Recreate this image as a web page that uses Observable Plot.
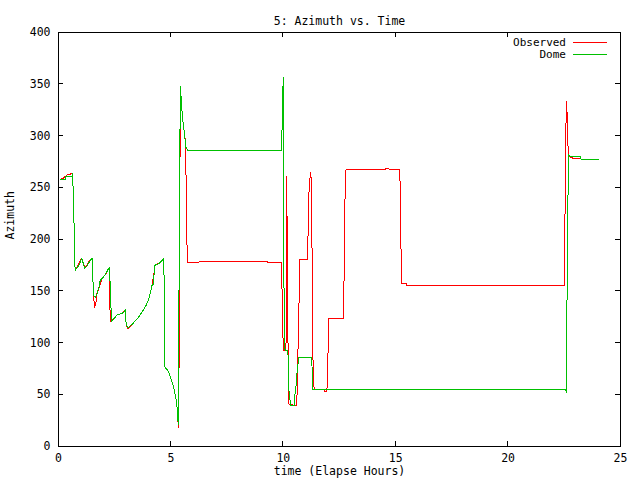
<!DOCTYPE html>
<html><head><meta charset="utf-8">
<script src="https://cdn.jsdelivr.net/npm/d3@7"></script>
<script src="https://cdn.jsdelivr.net/npm/@observablehq/plot@0.6"></script>
<style>body{margin:0;background:#fff}</style>
</head><body><div id="chart"></div>
<script>
const title = "5: Azimuth vs. Time";
const xLabel = "time (Elapse Hours)";
const yLabel = "Azimuth";
const seriesNames = ["Observed", "Dome"];
const seriesColors = ["#ff0000", "#00c000"];
const xDomain = [0, 25];
const yDomain = [0, 400];
const xTicks = [0, 5, 10, 15, 20, 25];
const yTicks = [0, 50, 100, 150, 200, 250, 300, 350, 400];

const obsHours = [0.08,0.2,0.3,0.42,0.62,0.67,0.71,0.74,0.82,0.92,1.04,1.16,1.26,1.38,1.49,1.56,1.6,1.66,1.71,1.81,1.93,2.08,2.26,2.3,2.45,2.6,2.75,2.87,2.97,3.01,3.09,3.27,3.49,3.71,3.89,4.04,4.16,4.23,4.3,4.45,4.6,4.67,4.71,4.73,4.82,4.9,5.0,5.07,5.15,5.22,5.27,5.3,5.34,5.37,5.4,5.43,5.47,5.54,5.61,5.65,5.67,5.7,5.74,6.23,6.25,9.3,9.32,9.5,9.52,9.91,9.94,9.97,10.01,10.12,10.15,10.19,10.22,10.25,10.4,10.45,10.6,10.67,10.74,11.07,11.1,11.12,11.17,11.23,11.27,11.33,11.38,11.8,11.82,11.94,11.97,12.02,12.68,12.7,12.73,12.79,14.54,14.56,14.69,14.71,15.18,15.21,15.24,15.26,15.47,15.49,22.5,22.52,22.56,22.59,22.63,22.65,22.7,22.77,22.92,23.22,23.25,24.03];
const obsAzimuth = [258,259,261,262.7,263.7,240,192.6,170,173,178,182,173,175,179.5,182,146,134.6,138,147.5,154,162,166,172.6,121,123,127,128,129.6,132,118,113.7,118,123,129.6,136,144,155.6,165,175,177,180,181.4,155,76.7,74.5,72,65.5,61,54.6,47,39,27,18,99.5,265,347.5,330,313.6,300.8,294,267,207,178,177.3,178.6,178.6,177.3,177.3,178.1,178.1,157,113.7,92.8,92.8,261,157,70.6,41,41,39.5,39.5,109,181,181,204,236,257,265.5,209,64,55,55,53.5,53.5,70,123.4,123.4,157,229.9,268,268,269,269,268,268,239.5,184.7,157.3,157.3,155.5,155.5,199,287.6,333.7,320,294.3,281.4,279.8,278.2,278.2,277.2,277.2];

const domeHours = [0.08,0.3,0.32,0.6,0.62,0.67,0.71,0.74,0.84,0.95,1.04,1.16,1.26,1.4,1.49,1.56,1.64,1.71,1.81,1.86,1.93,2.08,2.23,2.26,2.3,2.34,2.37,2.45,2.6,2.75,2.9,2.97,3.01,3.09,3.27,3.49,3.71,3.89,4.04,4.16,4.23,4.27,4.45,4.6,4.67,4.71,4.73,4.82,4.9,5.0,5.07,5.15,5.22,5.27,5.3,5.34,5.38,5.43,5.47,5.54,5.61,5.67,5.74,9.91,9.94,9.97,10.0,10.03,10.06,10.1,10.2,10.22,10.25,10.33,10.48,10.52,10.58,10.62,10.7,11.26,11.32,22.55,22.59,22.61,22.65,22.7,22.75,23.22,23.25,24.03];
const domeAzimuth = [258,258,261,261,263.7,240,192.6,170,173,177,182,172,174,179.5,182,146,144,147.5,155,161,162,166,172,172.6,156.5,131.4,121,123,127,128,129.6,132,118,114.5,118,123,129.6,136,144,155.6,157,175,176.5,179.5,181.4,155,76.7,74.5,72,65.5,61,54.6,47,39,28,21,265,347.5,330,313.6,300.8,289,286.3,286.3,302,337.6,356.5,157,94.4,93,93,83,54,39.6,39.6,51,60.6,75,86.4,86.4,54.8,54.8,52.5,110.5,225,282,280.5,280.5,277.2,277.2];

const observed = obsHours.map((t, i) => ({t, az: obsAzimuth[i]}));
const dome = domeHours.map((t, i) => ({t, az: domeAzimuth[i]}));

const font = "'DejaVu Sans Mono', monospace";
const fs = 11.5;
const tickLen = 5;

const plot = Plot.plot({
  width: 640, height: 480,
  marginLeft: 58, marginRight: 20, marginTop: 32, marginBottom: 34,
  style: {fontFamily: font, fontSize: fs + "px", background: "white", color: "black"},
  x: {domain: xDomain},
  y: {domain: yDomain},
  marks: [
    Plot.axisX(xTicks, {anchor: "bottom", tickSize: 0, tickPadding: 7, label: null}),
    Plot.axisY(yTicks, {anchor: "left", tickSize: 0, tickPadding: 8, label: null}),
    Plot.line(observed, {x: "t", y: "az", stroke: seriesColors[0], strokeWidth: 1, shapeRendering: "crispEdges"}),
    Plot.line(dome, {x: "t", y: "az", stroke: seriesColors[1], strokeWidth: 1, shapeRendering: "crispEdges"}),
    Plot.frame({stroke: "black", strokeWidth: 1, shapeRendering: "crispEdges"}),
    Plot.text([title], {frameAnchor: "top", dy: -16}),
    Plot.text([xLabel], {frameAnchor: "bottom", dy: 28}),
    Plot.text([yLabel], {frameAnchor: "left", dx: -48, rotate: -90})
  ]
});

// inward ticks on all four sides, positioned with the plot's own scales
const sx = plot.scale("x"), sy = plot.scale("y");
const svg = d3.select(plot);
const tg = svg.append("g").attr("stroke", "black").attr("stroke-width", 1).attr("shape-rendering", "crispEdges");
const yb = sy.apply(yDomain[0]), yt = sy.apply(yDomain[1]);
const xl = sx.apply(xDomain[0]), xr = sx.apply(xDomain[1]);
xTicks.forEach(t => {
  const x = sx.apply(t);
  tg.append("line").attr("x1", x).attr("x2", x).attr("y1", yb).attr("y2", yb - tickLen);
  tg.append("line").attr("x1", x).attr("x2", x).attr("y1", yt).attr("y2", yt + tickLen);
});
yTicks.forEach(v => {
  const y = sy.apply(v);
  tg.append("line").attr("x1", xl).attr("x2", xl + tickLen).attr("y1", y).attr("y2", y);
  tg.append("line").attr("x1", xr).attr("x2", xr - tickLen).attr("y1", y).attr("y2", y);
});

const leg = svg.append("g").attr("font-family", font).attr("font-size", 11);
seriesNames.forEach((name, i) => {
  const y = 42 + i * 12.6;
  leg.append("text").attr("x", 566).attr("y", y).attr("dy", "0.32em")
    .attr("text-anchor", "end").attr("fill", "black").text(name);
  leg.append("line").attr("x1", 573).attr("x2", 607).attr("y1", y).attr("y2", y)
    .attr("stroke", seriesColors[i]).attr("stroke-width", 1).attr("shape-rendering", "crispEdges");
});

document.getElementById("chart").appendChild(plot);
</script>
</body></html>
